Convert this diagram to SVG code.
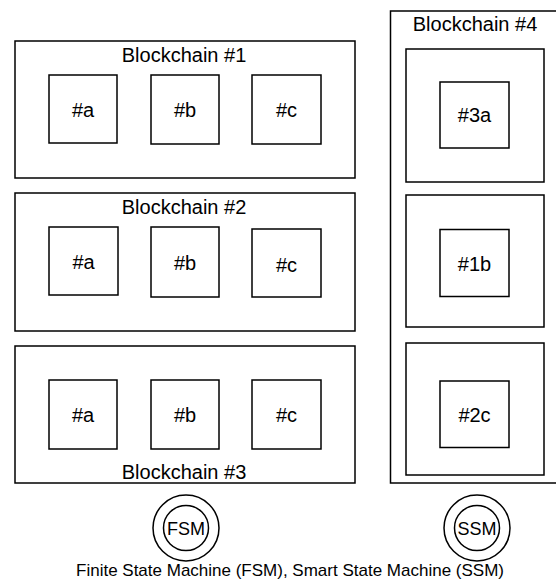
<svg xmlns="http://www.w3.org/2000/svg" width="556" height="586" viewBox="0 0 556 586">
<style>
.box{fill:#fff;stroke:#000;stroke-width:1.5}
.t{font-family:"Liberation Sans",Arial,Helvetica,sans-serif;font-size:20px;fill:#000;text-anchor:middle}
.s{font-family:"Liberation Sans",Arial,Helvetica,sans-serif;font-size:17px;fill:#000;text-anchor:middle}
.c{font-family:"Liberation Sans",Arial,Helvetica,sans-serif;font-size:18px;fill:#000;text-anchor:middle}
</style>
<rect width="556" height="586" fill="#fff"/>
<g id="blockchain1">
<rect class="box" x="15" y="41" width="340" height="137"/>
<text class="t" x="184" y="62">Blockchain #1</text>
<g id="bc1-a"><rect class="box" x="49" y="75" width="68" height="68"/><text class="t" x="83" y="117">#a</text></g>
<g id="bc1-b"><rect class="box" x="151" y="75" width="68" height="69"/><text class="t" x="185" y="117">#b</text></g>
<g id="bc1-c"><rect class="box" x="252" y="75" width="69" height="69"/><text class="t" x="286.5" y="117">#c</text></g>
</g>
<g id="blockchain2">
<rect class="box" x="15" y="193" width="340" height="138"/>
<text class="t" x="184" y="214">Blockchain #2</text>
<g id="bc2-a"><rect class="box" x="49" y="227" width="69" height="68"/><text class="t" x="83.5" y="269">#a</text></g>
<g id="bc2-b"><rect class="box" x="151" y="227" width="68" height="70"/><text class="t" x="185" y="270">#b</text></g>
<g id="bc2-c"><rect class="box" x="252" y="229" width="69" height="68"/><text class="t" x="286.5" y="271.5">#c</text></g>
</g>
<g id="blockchain3">
<rect class="box" x="15" y="346" width="340" height="137"/>
<text class="t" x="184" y="479">Blockchain #3</text>
<g id="bc3-a"><rect class="box" x="49" y="380" width="68" height="69"/><text class="t" x="83" y="422">#a</text></g>
<g id="bc3-b"><rect class="box" x="151" y="380" width="68" height="69"/><text class="t" x="185" y="422">#b</text></g>
<g id="bc3-c"><rect class="box" x="252" y="380" width="69" height="69"/><text class="t" x="286.5" y="422">#c</text></g>
</g>
<g id="blockchain4">
<rect class="box" x="390.5" y="11" width="200" height="472"/>
<text class="t" x="475" y="31">Blockchain #4</text>
<g id="bc4-3a"><rect class="box" x="406" y="49" width="138" height="133"/><rect class="box" x="440" y="82" width="69" height="66"/><text class="t" x="474.5" y="122">#3a</text></g>
<g id="bc4-1b"><rect class="box" x="406" y="195" width="138" height="132"/><rect class="box" x="440" y="229.5" width="69" height="67"/><text class="t" x="474.5" y="270.5">#1b</text></g>
<g id="bc4-2c"><rect class="box" x="406" y="343" width="138" height="132"/><rect class="box" x="440" y="381" width="69" height="66.5"/><text class="t" x="474.5" y="421.5">#2c</text></g>
</g>
<g id="fsm">
<circle class="box" cx="186" cy="528" r="33"/>
<circle class="box" cx="186" cy="528" r="22.5"/>
<text class="c" x="186" y="534.5">FSM</text>
</g>
<g id="ssm">
<circle class="box" cx="477" cy="528" r="33"/>
<circle class="box" cx="477" cy="528" r="22.5"/>
<text class="c" x="477" y="534.5">SSM</text>
</g>
<g id="connectors"></g>
<text class="s" x="290" y="576">Finite State Machine (FSM), Smart State Machine (SSM)</text>
</svg>
